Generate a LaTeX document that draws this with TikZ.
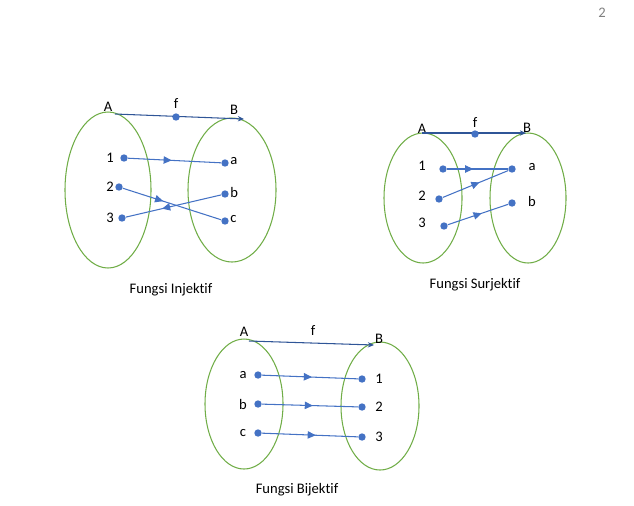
\documentclass[tikz,border=0pt]{standalone}
\usepackage{fontspec}
\setmainfont{Carlito}[Ligatures=NoCommon]
\usetikzlibrary{arrows.meta,decorations.markings}
\definecolor{setgreen}{RGB}{112,173,71}
\definecolor{mapblue}{RGB}{68,114,196}
\definecolor{topblue}{RGB}{47,85,151}
\tikzset{
  himpunan/.style={draw=setgreen, line width=0.6pt},
  titik/.style={circle, fill=mapblue, inner sep=0pt, minimum size=4.2pt},
  huruf/.style={font=\fontsize{8.3}{10}\selectfont, inner sep=0pt},
  panah/.style={mapblue, line width=0.6pt, postaction={decorate},
    decoration={markings, mark=at position #1 with {\arrow{Triangle[length=4.6pt,width=4.2pt]}}}},
  panah/.default=0.5,
  garis/.style={topblue, line width=0.6pt, -{Stealth[length=3.5pt,width=3pt]}}
}
\begin{document}
\begin{tikzpicture}[x=0.02cm, y=-0.02cm]
\useasboundingbox (0,0) rectangle (634,505);
\node[huruf, text=gray] (hal) at (602,13) {2};
% fungsi injektif
\draw[himpunan] (108,190) ellipse [x radius=43, y radius=78];
\draw[himpunan] (232,190) ellipse [x radius=44, y radius=72];
\node[huruf] (A1) at (108,107) {A};
\node[huruf] (f1) at (176,103) {f};
\node[huruf] (B1) at (234,110) {B};
\coordinate (s1) at (115,114);
\coordinate (e1) at (244,119);
\draw[garis] (s1) -- (e1);
\node[titik] (m1) at (176,117) {};
\foreach \n/\x/\y in {1/124/158, 2/119/187, 3/122/218}
{
	\node[huruf] at (110,\y) {\n};
	\node[titik] (i\n) at (\x,\y) {};
}
\foreach \n/\y in {a/163, b/194, c/221}
{
	\node[titik] (i\n) at (225,\y) {};
	\node[huruf, anchor=west] at (230,\y-2) {\n};
}
\draw[panah=0.47] (i1) -- (ia);
\draw[panah=0.41] (i2) -- (ic);
\draw[panah=0.62] (ib) -- (i3);
\node[huruf] (judul1) at (171,290) {Fungsi Injektif};
% fungsi surjektif
\draw[himpunan] (423,198) ellipse [x radius=39, y radius=65];
\draw[himpunan] (528,198) ellipse [x radius=38, y radius=65];
\node[huruf] (A2) at (422,129) {A};
\node[huruf] (f2) at (475,122) {f};
\node[huruf] (B2) at (527,128) {B};
\coordinate (s2) at (422,133);
\coordinate (e2) at (526,133);
\draw[garis] (s2) -- (e2);
\node[titik] (m2) at (475,134) {};
\foreach \n/\x/\y in {1/443/169, 2/439/199, 3/444/226}
{
	\node[huruf] at (422,\y-3) {\n};
	\node[titik] (s\n) at (\x,\y) {};
}
\foreach \n/\y in {a/169, b/203}
{
	\node[titik] (s\n) at (512,\y) {};
	\node[huruf] at (532,\y-2) {\n};
}
\draw[panah=0.43] (s1) -- (sa);
\draw[panah=0.56] (s2) -- (sa);
\draw[panah=0.56] (s3) -- (sb);
\node[huruf] (judul2) at (475,285) {Fungsi Surjektif};
% fungsi bijektif
\draw[himpunan] (244,404) ellipse [x radius=39, y radius=65];
\draw[himpunan] (380,406) ellipse [x radius=39, y radius=64];
\node[huruf] (A3) at (244,332) {A};
\node[huruf] (f3) at (313,330) {f};
\node[huruf] (B3) at (379,339) {B};
\coordinate (s3) at (249,341);
\coordinate (e3) at (374,345);
\draw[garis] (s3) -- (e3);
\foreach \n/\m/\y/\z in {a/1/375/379, b/2/404/407, c/3/433/437}
{
	\node[huruf] at (243,\y) {\n};
	\node[titik] (b\n) at (258,\y) {};
	\node[titik] (b\m) at (362,\z) {};
	\node[huruf] at (379,\z) {\m};
}
\draw[panah=0.52] (ba) -- (b1);
\draw[panah=0.53] (bb) -- (b2);
\draw[panah=0.56] (bc) -- (b3);
\node[huruf] (judul3) at (297,490) {Fungsi Bijektif};
\end{tikzpicture}
\end{document}
